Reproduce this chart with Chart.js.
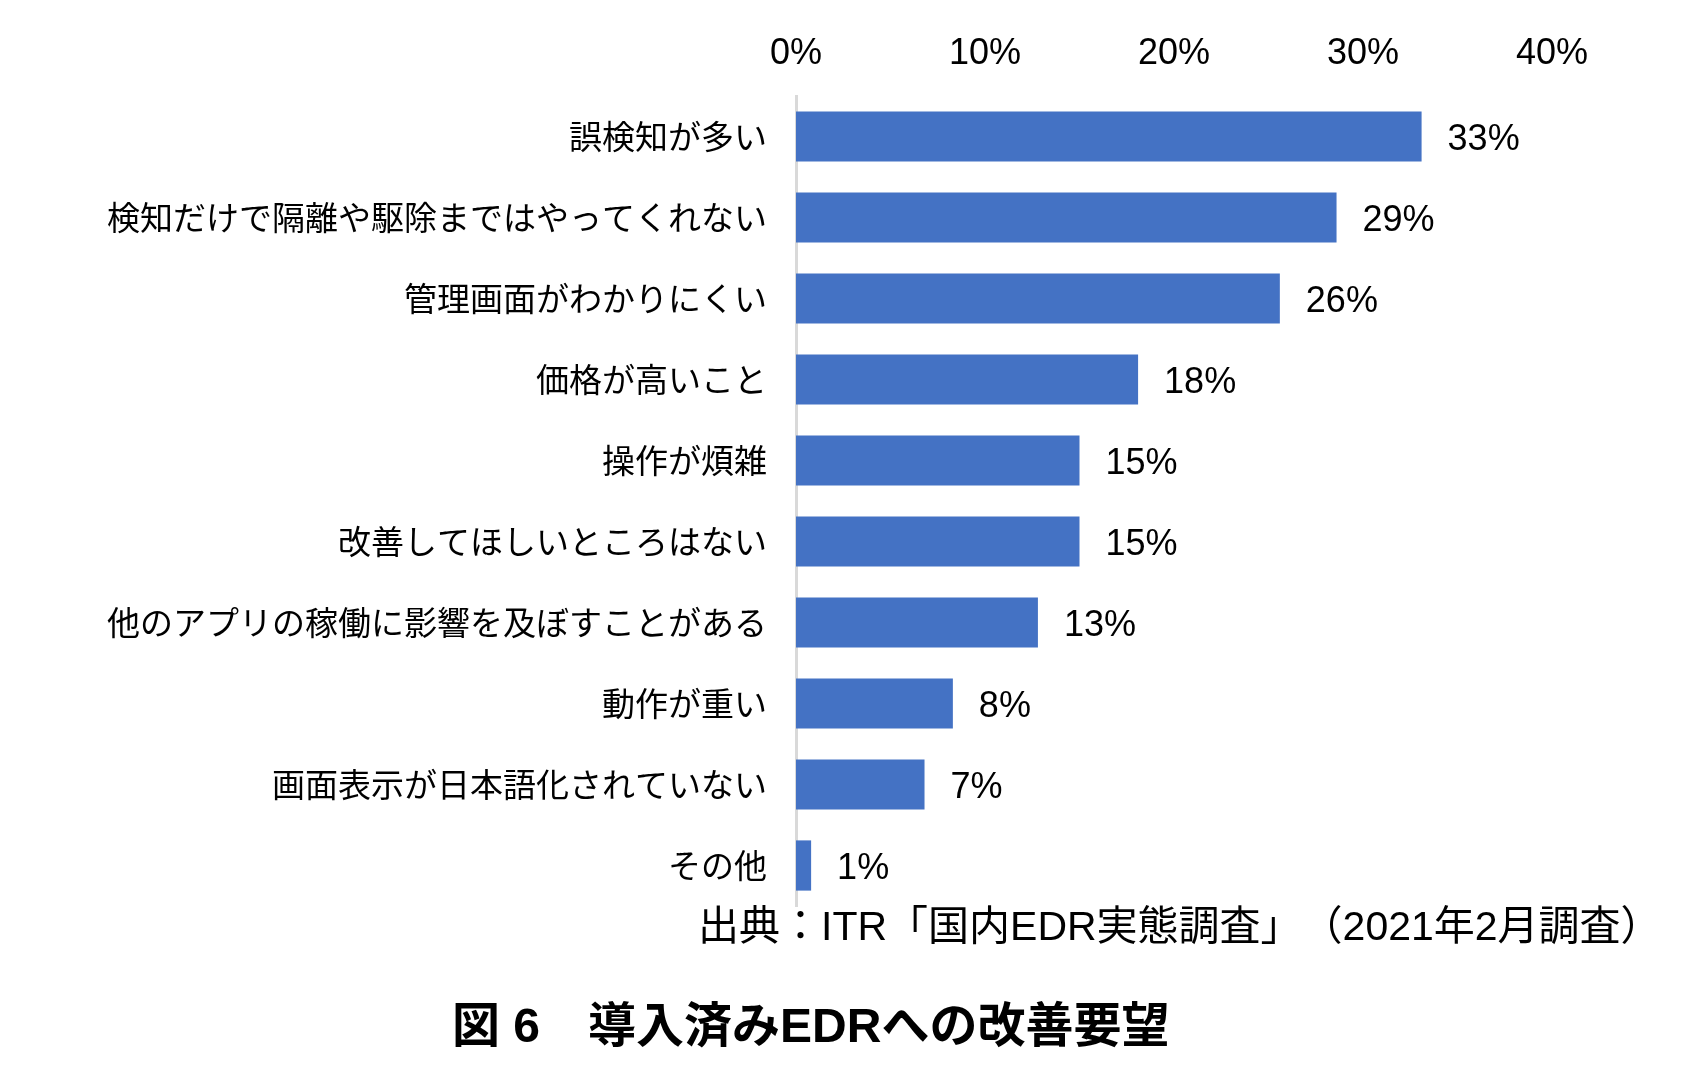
<!DOCTYPE html>
<html><head><meta charset="utf-8">
<script src="https://cdn.jsdelivr.net/npm/chart.js@4/dist/chart.umd.min.js"></script>
<style>
html,body{margin:0;padding:0;background:#fff;}
#wrap{position:relative;width:1705px;height:1081px;}
#c{position:absolute;left:0;top:0;}
.txt{position:absolute;font-family:'Liberation Sans','Noto Sans CJK JP',sans-serif;color:#000;white-space:nowrap;line-height:1;text-spacing-trim:space-all;}
#src{left:698px;top:906px;font-size:41px;}
#ttl{left:452px;top:1002px;font-size:48px;font-weight:bold;}
</style></head>
<body>
<div id="wrap">
<canvas id="c" width="1705" height="1081"></canvas>
<div class="txt" id="src">出典：ITR「国内EDR実態調査」（2021年2月調査）</div>
<div class="txt" id="ttl">図 6　導入済みEDRへの改善要望</div>
</div>
<script>
const categories = [
  '誤検知が多い',
  '検知だけで隔離や駆除まではやってくれない',
  '管理画面がわかりにくい',
  '価格が高いこと',
  '操作が煩雑',
  '改善してほしいところはない',
  '他のアプリの稼働に影響を及ぼすことがある',
  '動作が重い',
  '画面表示が日本語化されていない',
  'その他'
];
const values = [33.1, 28.6, 25.6, 18.1, 15.0, 15.0, 12.8, 8.3, 6.8, 0.8];
const xTicks = [0, 10, 20, 30, 40];

const FONT = "'Liberation Sans','Noto Sans CJK JP',sans-serif";

const dataLabels = {
  id: 'dataLabels',
  afterDatasetsDraw(chart) {
    const ctx = chart.ctx;
    const meta = chart.getDatasetMeta(0);
    ctx.save();
    ctx.font = "36px " + FONT;
    ctx.fillStyle = '#000';
    ctx.textAlign = 'left';
    ctx.textBaseline = 'middle';
    meta.data.forEach((bar, i) => {
      ctx.fillText(Math.round(values[i]) + '%', bar.x + 26, bar.y + 4);
    });
    ctx.restore();
  }
};

new Chart(document.getElementById('c'), {
  type: 'bar',
  data: {
    labels: categories,
    datasets: [{
      data: values,
      backgroundColor: '#4472C4',
      borderWidth: 0,
      categoryPercentage: 1,
      barPercentage: 0.62
    }]
  },
  options: {
    indexAxis: 'y',
    responsive: false,
    animation: false,
    devicePixelRatio: 1,
    layout: { padding: { left: 0, right: 153, top: 0, bottom: 175 } },
    plugins: { legend: { display: false }, tooltip: { enabled: false } },
    scales: {
      x: {
        position: 'top',
        min: 0, max: 40,
        afterBuildTicks(scale) { scale.ticks = xTicks.map(v => ({ value: v })); },
        afterFit(scale) { scale.height = 96; },
        grid: { display: false, drawTicks: false },
        border: { display: false },
        ticks: {
          padding: 20,
          color: '#000',
          font: { family: FONT, size: 36 },
          callback: v => v + '%'
        }
      },
      y: {
        afterFit(scale) { scale.width = 796; },
        grid: { display: false, drawTicks: false },
        border: { display: true, color: '#d9d9d9', width: 3 },
        ticks: {
          padding: 29,
          labelOffset: 3,
          color: '#000',
          font: { family: FONT, size: 33 }
        }
      }
    }
  },
  plugins: [dataLabels]
});
</script>
</body></html>
